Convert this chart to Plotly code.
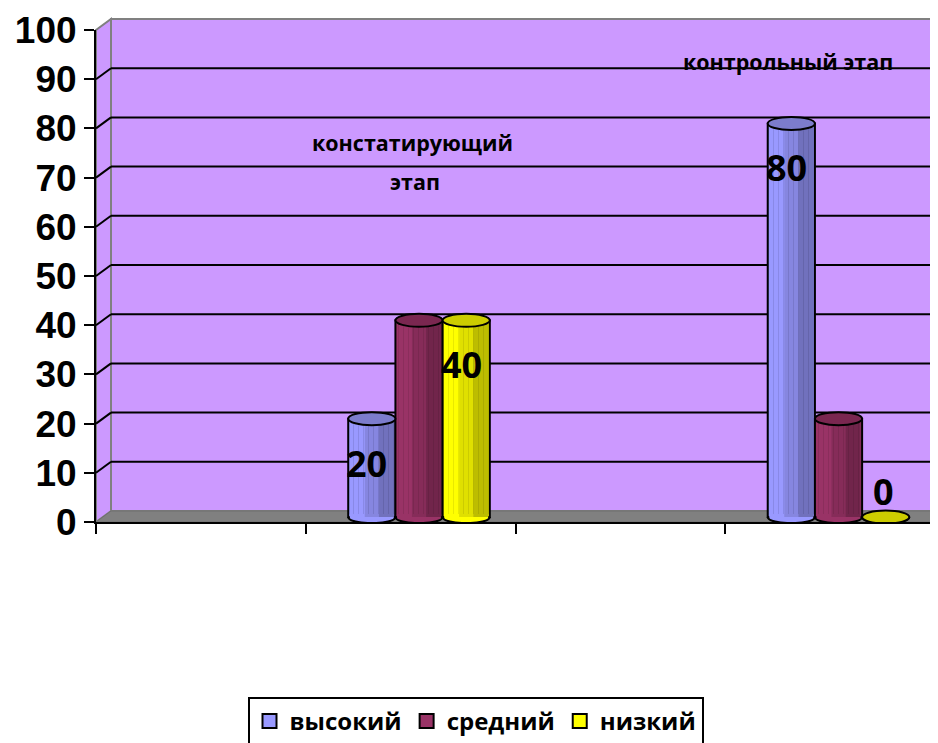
import plotly.graph_objects as go

# ---------------- data ----------------
categories = ["", "констатирующий этап", "", "контрольный этап"]
series_names = ["высокий", "средний", "низкий"]
high_values = [None, 20, None, 80]
medium_values = [None, 40, None, 20]
low_values = [None, 40, None, 0]
high_labels = [None, "20", None, "80"]
medium_labels = [None, None, None, None]
low_labels = [None, "40", None, "0"]
y_ticks = [0, 10, 20, 30, 40, 50, 60, 70, 80, 90, 100]
stage_lines_1 = ["констатирующий", "этап"]
stage_lines_2 = ["контрольный этап"]

# ---------------- style ----------------
FONT = "Open Sans"
TICK_FONT = "Liberation Sans"
PAGE_OFF = 8                # default body margin of the html page
FIG_W, FIG_H = 938 - PAGE_OFF, 743 - PAGE_OFF
M_L, M_R, M_T, M_B = 96 - PAGE_OFF, 3, 30 - PAGE_OFF, 221
PW = FIG_W - M_L - M_R
PH = FIG_H - M_T - M_B
DX, DY = 15, 11             # 3-D depth offset in px
SHIFT = 0.04                # bars sit mid-depth -> shifted right
BARGAP = 0.325
LIFT = 1.0                  # bars stand mid-depth on the floor
Y_RANGE = [0, 100]
X_RANGE = [-0.5 - SHIFT, len(categories) - 0.5 - SHIFT]

body_colors = ["#9999FF", "#993366", "#FFFF00"]
top_colors = ["#7C7CCC", "#7A2750", "#CCCC00"]
legend_colors = ["#9999FF", "#993366", "#FFFF00"]
stripe_colors = ["#6262B0", "#6A1F44", "#B5B500"]
WALL = "#CC99FF"
FLOOR = "#808080"

series_values = [high_values, medium_values, low_values]
series_labels = [high_labels, medium_labels, low_labels]

n = len(series_names)
bar_w = (1 - BARGAP) / n
x_idx = list(range(len(categories)))

fig = go.Figure()
for k in range(n):
    fig.add_trace(go.Bar(
        x=x_idx, y=series_values[k], base=LIFT, name=series_names[k],
        marker=dict(color=body_colors[k], line=dict(color="black", width=2),
                    pattern=dict(shape="|", fgcolor=stripe_colors[k], fgopacity=0.3,
                                 size=5, solidity=0.2)),
        showlegend=False, hoverinfo="skip",
    ))
# legend entries with flat legend colours (markers, so they take no bar slot)
for k in range(n):
    fig.add_trace(go.Scatter(
        x=[None], y=[None], name=series_names[k], mode="markers",
        marker=dict(symbol="square", size=14, color=legend_colors[k],
                    line=dict(color="black", width=2)),
    ))


def yp(v):
    return (v - Y_RANGE[0]) / (Y_RANGE[1] - Y_RANGE[0])


dxp, dyp = DX / PW, DY / PH
xr = 1 + (M_R + 8) / PW
shapes = []
# back wall
shapes.append(dict(type="rect", xref="paper", yref="paper", x0=dxp, x1=xr,
                   y0=dyp, y1=1 + dyp, fillcolor=WALL,
                   line=dict(color="#808080", width=2), layer="below"))
# side wall
shapes.append(dict(type="path", xref="paper", yref="paper",
                   path=f"M0,0 L{dxp},{dyp} L{dxp},{1 + dyp} L0,1 Z",
                   fillcolor=WALL, line=dict(color="#808080", width=2), layer="below"))
# floor
shapes.append(dict(type="path", xref="paper", yref="paper",
                   path=f"M0,0 L{dxp},{dyp} L{xr},{dyp} L1,0 Z",
                   fillcolor=FLOOR, line=dict(color="#6e6e6e", width=1), layer="below"))
# gridlines on walls
for v in y_ticks:
    if Y_RANGE[0] < v < Y_RANGE[1]:
        shapes.append(dict(type="line", xref="paper", yref="paper", x0=dxp, x1=xr,
                           y0=yp(v) + dyp, y1=yp(v) + dyp,
                           line=dict(color="black", width=2), layer="below"))
        shapes.append(dict(type="line", xref="paper", yref="paper", x0=0, x1=dxp,
                           y0=yp(v), y1=yp(v) + dyp,
                           line=dict(color="black", width=2), layer="below"))

# cylinder shading and caps
eps = 1.5 / (PW / (X_RANGE[1] - X_RANGE[0]))
shade_bands = [(0.35, 0.65, 0.12), (0.65, 1.0, 0.26)]
for k in range(n):
    for i, v in enumerate(series_values[k]):
        if v is None:
            continue
        c = i + (k - (n - 1) / 2) * bar_w
        xl, xrr = c - bar_w / 2, c + bar_w / 2
        # bottom rounded edge
        shapes.append(dict(type="path", xref="x", yref="y", ysizemode="pixel", yanchor=LIFT,
                           path=f"M{xl + eps},3 L{xl + eps},0 C{xl + eps},-8 {xrr - eps},-8 {xrr - eps},0 L{xrr - eps},3 Z",
                           fillcolor=body_colors[k], line=dict(width=0), layer="above"))
        # horizontal shading of the cylinder body
        if v > 0:
            for a, b, op in shade_bands:
                shapes.append(dict(type="rect", xref="x", yref="y",
                                   x0=xl + a * bar_w + (eps if a == 0 else 0),
                                   x1=xl + b * bar_w - (eps if b == 1 else 0),
                                   y0=LIFT, y1=LIFT + v, fillcolor=f"rgba(0,0,0,{op})",
                                   line=dict(width=0), layer="above"))
        shapes.append(dict(type="path", xref="x", yref="y", ysizemode="pixel", yanchor=LIFT,
                           path=f"M{xl},0 C{xl},-8 {xrr},-8 {xrr},0",
                           fillcolor="rgba(0,0,0,0)", line=dict(color="black", width=2), layer="above"))
        # top ellipse
        shapes.append(dict(type="circle", xref="x", yref="y", ysizemode="pixel",
                           yanchor=LIFT + v, y0=-6.5, y1=6.5, x0=xl, x1=xrr,
                           fillcolor=top_colors[k], line=dict(color="black", width=2),
                           layer="above"))

annotations = []
for k in range(n):
    for i, lab in enumerate(series_labels[k]):
        if lab is None:
            continue
        v = series_values[k][i]
        c = i + (k - (n - 1) / 2) * bar_w
        inside = v > 0
        annotations.append(dict(x=c, y=LIFT + v, xref="x", yref="y", text=lab,
                                showarrow=False, xshift=-5 if inside else -2,
                                yanchor="top" if inside else "bottom",
                                yshift=-18 if inside else -1,
                                font=dict(family=FONT, size=36, color="black", weight="bold")))

stage_font = dict(family=FONT, size=21.5, color="black", weight="bold")
annotations.append(dict(x=0.967, y=77.2, xref="x", yref="y", text=stage_lines_1[0],
                        showarrow=False, font=stage_font))
annotations.append(dict(x=0.981, y=69.3, xref="x", yref="y", text=stage_lines_1[1],
                        showarrow=False, font=stage_font))
annotations.append(dict(x=2.759, y=93.5, xref="x", yref="y", text=stage_lines_2[0],
                        showarrow=False, font=stage_font))

fig.update_layout(
    width=FIG_W, height=FIG_H,
    margin=dict(l=M_L, r=M_R, t=M_T, b=M_B, pad=0, autoexpand=False),
    paper_bgcolor="white", plot_bgcolor="rgba(0,0,0,0)",
    barmode="group", bargap=BARGAP, bargroupgap=0,
    shapes=shapes, annotations=annotations,
    font=dict(family=FONT, color="black"),
    legend=dict(orientation="h", xanchor="center", x=(475.5 - PAGE_OFF - M_L) / PW,
                yanchor="top", y=(PH + M_T - (697 - PAGE_OFF)) / PH,
                bgcolor="white", bordercolor="black", borderwidth=2,
                font=dict(family=FONT, size=24, color="black", weight="bold"),
                itemclick=False, itemdoubleclick=False, traceorder="normal"),
    xaxis=dict(range=X_RANGE, showgrid=False, zeroline=False, showline=True,
               linecolor="black", linewidth=2, ticks="outside", ticklen=10, tickwidth=2,
               tickcolor="black", automargin=False,
               tickvals=[i - 0.5 - SHIFT for i in range(len(categories) + 1)],
               showticklabels=False, fixedrange=True),
    yaxis=dict(range=Y_RANGE, tickvals=y_ticks, showgrid=False, zeroline=False,
               showline=True, linecolor="black", linewidth=2, ticks="outside",
               ticklen=10, tickwidth=2, tickcolor="black", automargin=False,
               ticklabeloverflow="allow",
               tickfont=dict(family=TICK_FONT, size=37, color="black", weight="bold"),
               fixedrange=True),
)

fig.write_html("out.html")
